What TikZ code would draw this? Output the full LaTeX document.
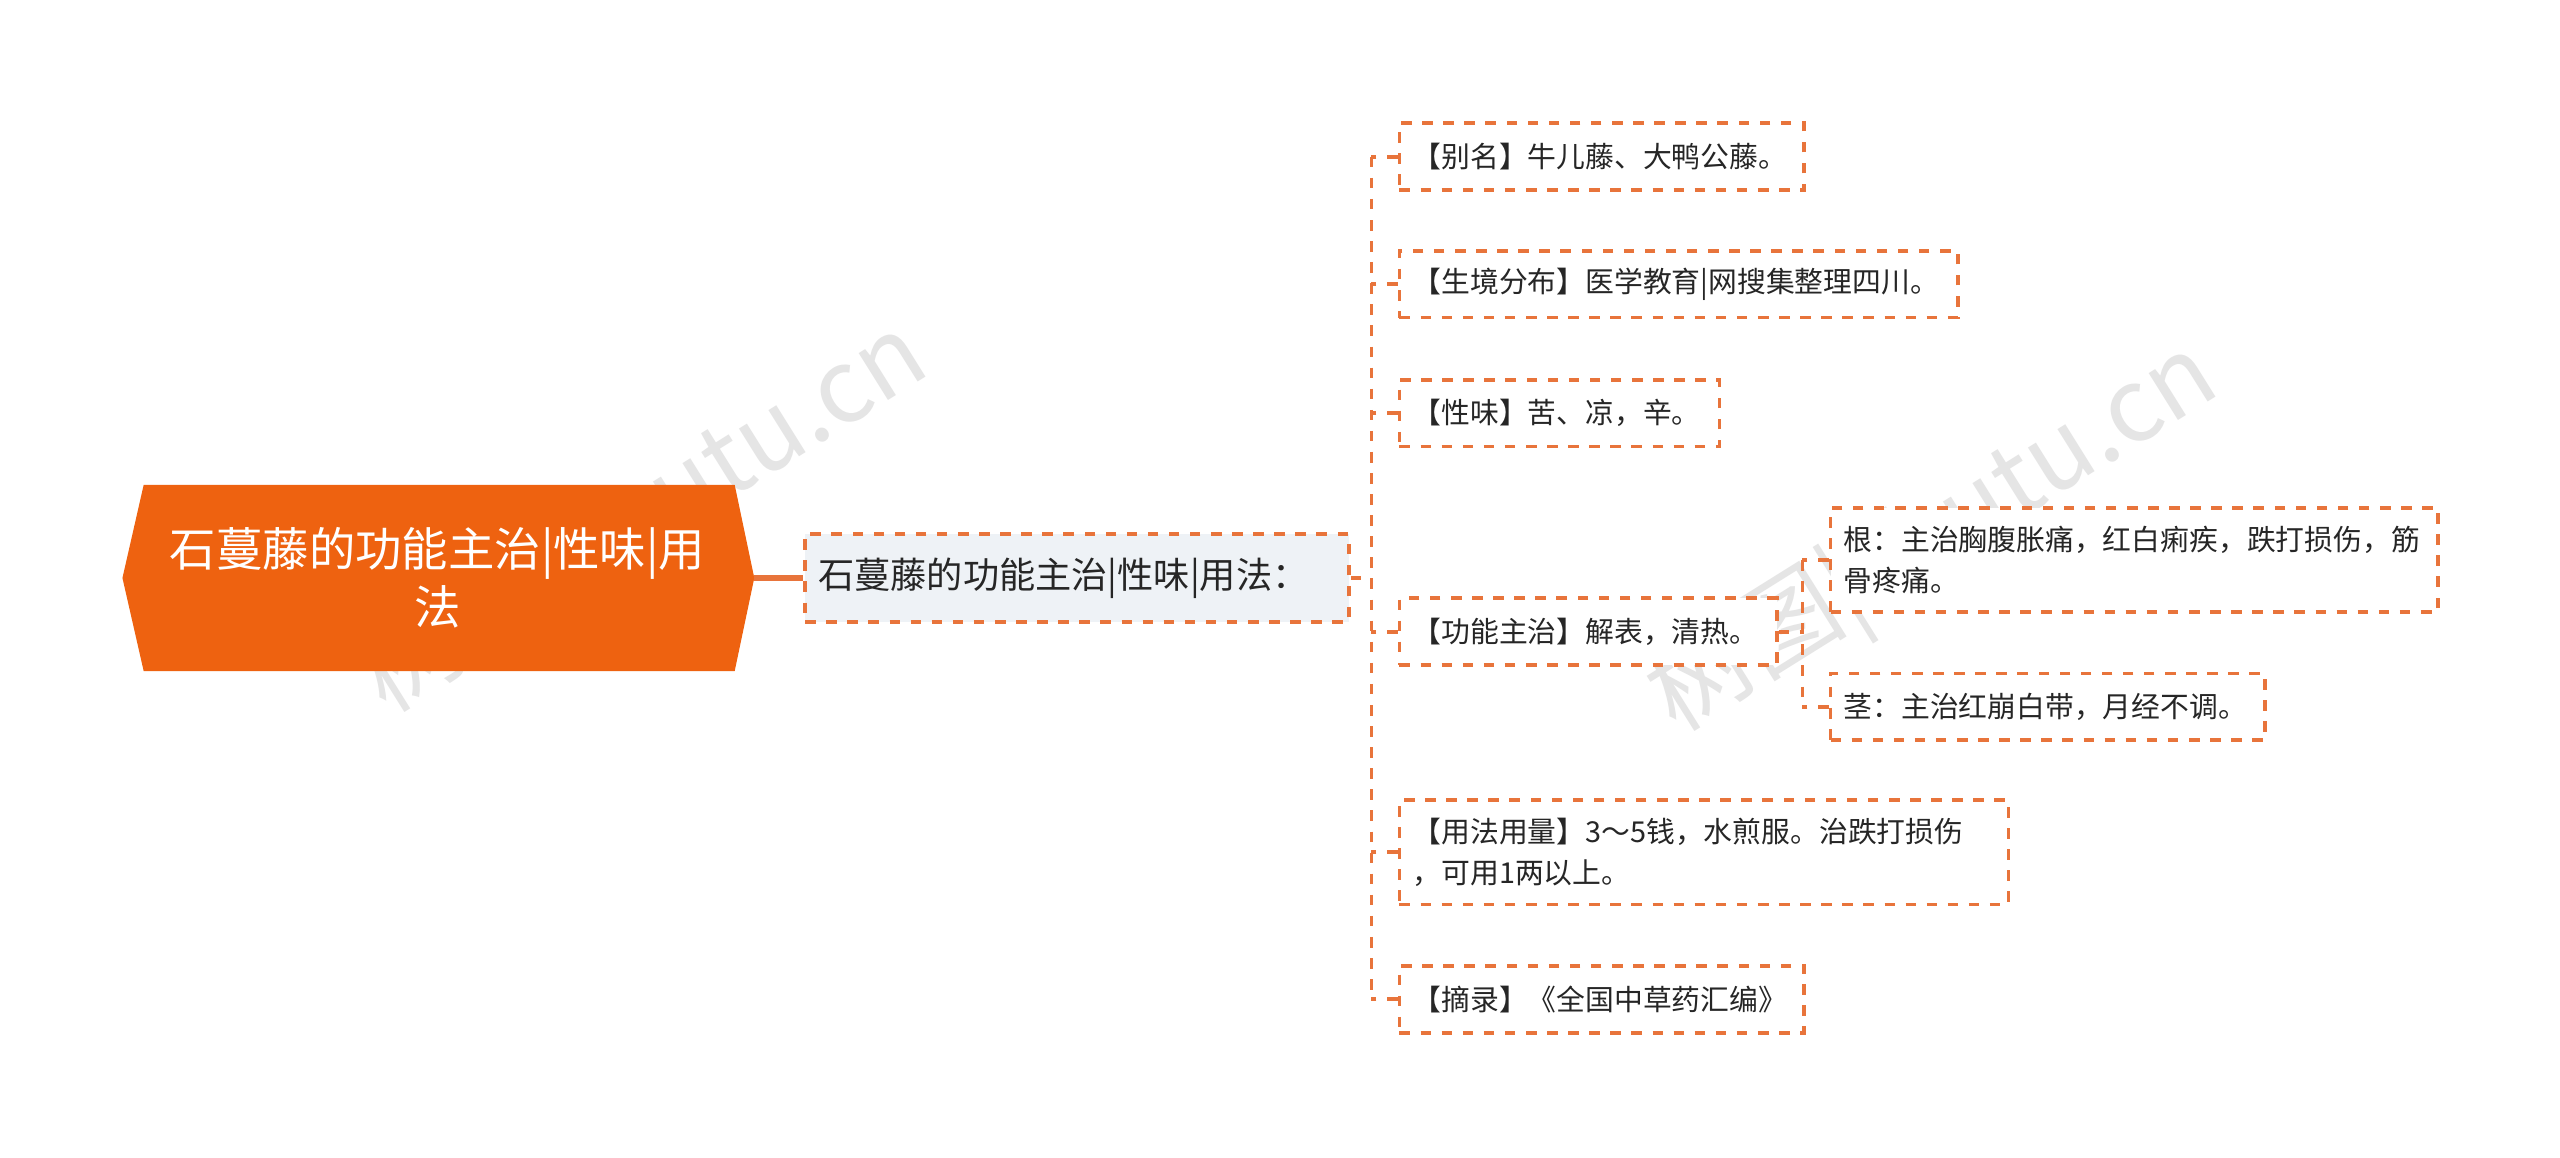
\documentclass[tikz,border=0pt]{standalone}
\usepackage{fontspec}
\newfontfamily\cjk{Noto Sans CJK SC}
\newcommand\px{0.016327cm}
\definecolor{org}{HTML}{E8743B}
\definecolor{rootc}{HTML}{EE6210}
\definecolor{midf}{HTML}{EEF2F6}
\begin{document}
\begin{tikzpicture}[x=0.016327cm,y=-0.016327cm,
  leaf/.style={draw=org,dashed,line width=1.1pt,fill=white,anchor=west,align=left,inner xsep=8*\px,inner ysep=0pt,font=\cjk\fontsize{8.2pt}{11.5pt}\selectfont,text=black!85},
  link/.style={draw=org,dashed,line width=1.1pt}]
\useasboundingbox (0,0) rectangle (1568,709);
\fill[white] (0,0) rectangle (1568,709);
% watermarks
\foreach \p in {(395,318),(1185,330)}
  \node[rotate=32,text=black!10,font=\sffamily\fontsize{29pt}{29pt}\selectfont] at \p {\cjk 树图|shutu.cn};
% root
\fill[rootc] (88,297) -- (450,297) -- (462,354) -- (450,411) -- (88,411) -- (75,354) -- cycle;
\coordinate (rE) at (462,354);
\node[text=white,align=center,font=\cjk\fontsize{13.2pt}{16.5pt}\selectfont] (root) at (268,354) {石蔓藤的功能主治|性味|用\\法};
% mid
\node[leaf,fill=midf,minimum width=333*\px,minimum height=54*\px,text width=317*\px,font=\cjk\fontsize{10.3pt}{12pt}\selectfont] (mid) at (492,354) {石蔓藤的功能主治|性味|用法：};
\draw[org,line width=1.6pt] (rE) -- (mid.west);
% leaves
\node[leaf,minimum width=248*\px,minimum height=41*\px,text width=232*\px] (n1) at (856,96) {【别名】牛儿藤、大鸭公藤。};
\node[leaf,minimum width=342*\px,minimum height=41*\px,text width=326*\px] (n2) at (856,174) {【生境分布】医学教育|网搜集整理四川。};
\node[leaf,minimum width=196*\px,minimum height=41*\px,text width=180*\px] (n3) at (856,253) {【性味】苦、凉，辛。};
\node[leaf,minimum width=231*\px,minimum height=41*\px,text width=215*\px] (n4) at (856,387) {【功能主治】解表，清热。};
\node[leaf,minimum width=373*\px,minimum height=64*\px,text width=357*\px] (n5) at (856,522) {【用法用量】3～5钱，水煎服。治跌打损伤\\，可用1两以上。};
\node[leaf,minimum width=248*\px,minimum height=41*\px,text width=232*\px] (n6) at (856,612) {【摘录】《全国中草药汇编》};
\node[leaf,minimum width=372*\px,minimum height=64*\px,text width=356*\px] (a) at (1120,343) {根：主治胸腹胀痛，红白痢疾，跌打损伤，筋\\骨疼痛。};
\node[leaf,minimum width=266*\px,minimum height=41*\px,text width=250*\px] (b) at (1120,433) {茎：主治红崩白带，月经不调。};
% brackets
\coordinate (bt) at (840,96); \coordinate (bb) at (840,612); \coordinate (bm) at (840,354);
\draw[link] (bt) -- (bb);
\draw[link] (mid.east) -- (bm);
\foreach \n in {n1,n2,n3,n4,n5,n6} \draw[link] (\n.west) -- (bt |- \n.west);
\coordinate (st) at (1104,343); \coordinate (sb) at (1104,433); \coordinate (sm) at (1104,387);
\draw[link] (st) -- (sb);
\draw[link] (n4.east) -- (sm);
\draw[link] (a.west) -- (st);
\draw[link] (b.west) -- (sb);
\end{tikzpicture}
\end{document}
